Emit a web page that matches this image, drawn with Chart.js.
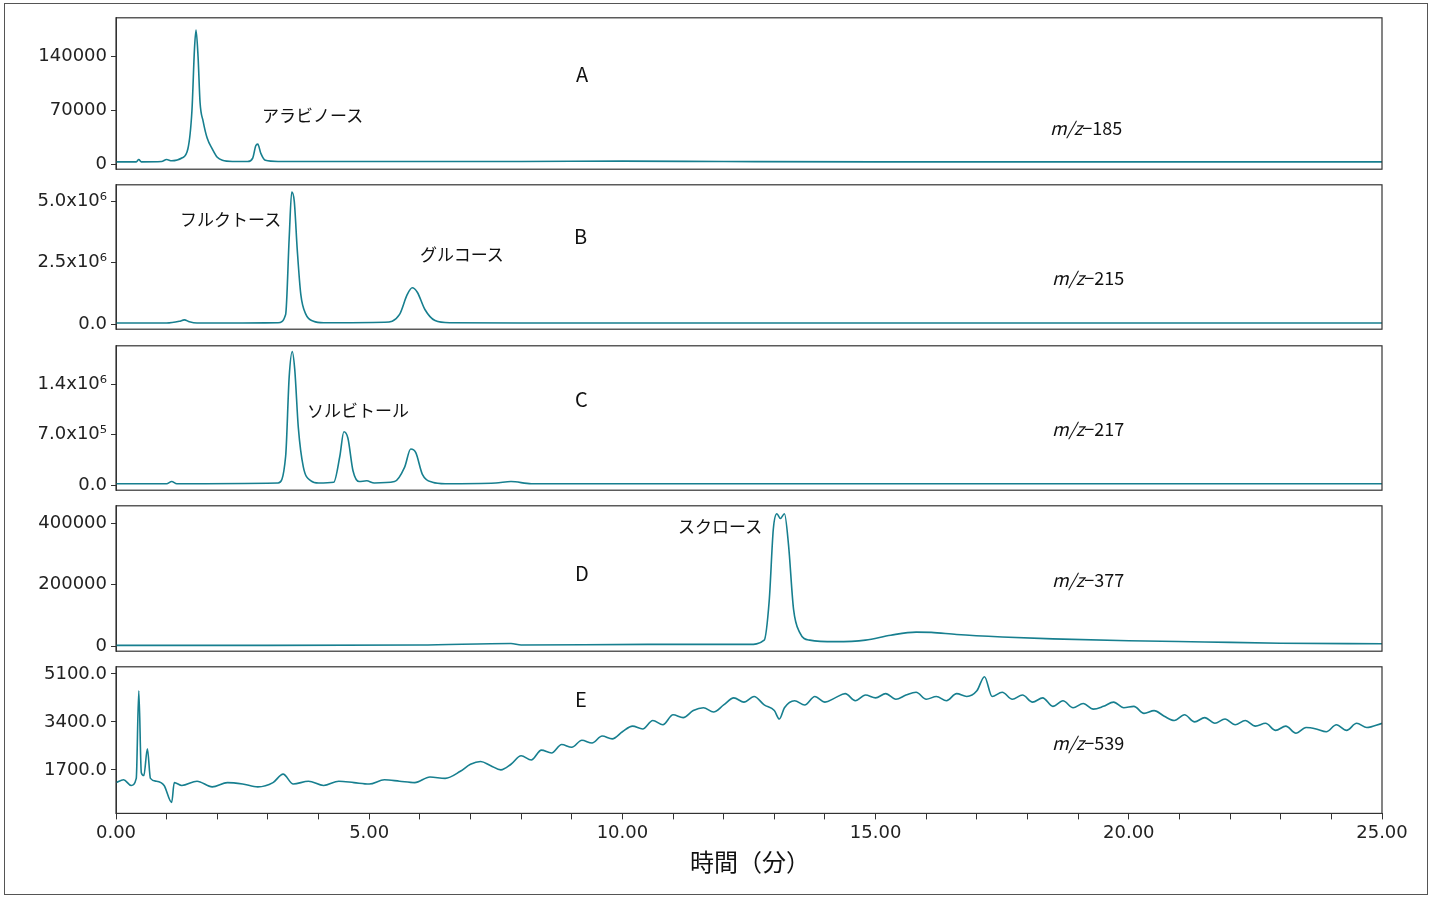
<!DOCTYPE html>
<html><head><meta charset="utf-8">
<script src="https://cdn.jsdelivr.net/npm/chart.js@4.4.0/dist/chart.umd.min.js"></script>
<style>
body{margin:0;background:#fff;font-family:"Noto Sans CJK JP","Noto Sans",sans-serif;}
#frame{position:absolute;left:4px;top:3px;width:1422px;height:890px;border:1.5px solid #555;}
.box{position:absolute;left:8px;width:1412px;}
.lab{position:absolute;font-size:17px;color:#111;white-space:nowrap;}
.big{font-size:20px;}
.mz{font-size:18px;}
</style></head><body>
<div id="frame"></div>
<div class="box" style="top:3px;height:181px"><canvas id="cA"></canvas></div>
<div class="box" style="top:170px;height:174px"><canvas id="cB"></canvas></div>
<div class="box" style="top:331px;height:174px"><canvas id="cC"></canvas></div>
<div class="box" style="top:491px;height:175px"><canvas id="cD"></canvas></div>
<div class="box" style="top:652px;height:195px"><canvas id="cE"></canvas></div>

<div class="lab big" style="left:576px;top:59px">A</div>
<div class="lab" style="left:262px;top:102px">アラビノース</div>
<div class="lab mz" style="left:1050px;top:114px"><i>m/z</i>−185</div>
<div class="lab big" style="left:574px;top:221px">B</div>
<div class="lab" style="left:180px;top:206px">フルクトース</div>
<div class="lab" style="left:420px;top:241px">グルコース</div>
<div class="lab mz" style="left:1052px;top:264px"><i>m/z</i>−215</div>
<div class="lab big" style="left:575px;top:384px">C</div>
<div class="lab" style="left:307px;top:397px">ソルビトール</div>
<div class="lab mz" style="left:1052px;top:415px"><i>m/z</i>−217</div>
<div class="lab big" style="left:575px;top:558px">D</div>
<div class="lab" style="left:678px;top:513px">スクロース</div>
<div class="lab mz" style="left:1052px;top:566px"><i>m/z</i>−377</div>
<div class="lab big" style="left:575px;top:684px">E</div>
<div class="lab mz" style="left:1052px;top:729px"><i>m/z</i>−539</div>
<div class="lab" style="left:690px;top:843px;font-size:24px">時間（分）</div>

<script>
// --- data ---
const A_t = [0,0.4,0.45,0.5,0.9,1.0,1.1,1.3,1.42,1.5,1.55,1.58,1.62,1.66,1.72,1.8,1.9,2.0,2.1,2.3,2.6,2.7,2.76,2.8,2.86,2.95,3.2,5,8,10,12,15,20,25];
const A_v = [3000,3000,6000,3000,3500,6000,4500,8000,20000,70000,150000,174000,140000,80000,56000,34000,20000,9000,5000,3500,3500,8000,24000,26000,14000,5000,3500,3500,3500,4000,3500,3000,3000,3000];
const B_t = [0,1.0,1.25,1.35,1.45,1.6,2.5,3.2,3.35,3.42,3.47,3.52,3.58,3.65,3.75,3.9,4.1,5.3,5.6,5.75,5.85,5.95,6.1,6.3,6.6,8,12,18,25];
const B_v = [0.05e6,0.05e6,0.12e6,0.18e6,0.1e6,0.05e6,0.05e6,0.06e6,0.4e6,3.5e6,5.37e6,5.0e6,3.0e6,1.2e6,0.4e6,0.12e6,0.06e6,0.08e6,0.4e6,1.2e6,1.48e6,1.3e6,0.6e6,0.15e6,0.06e6,0.05e6,0.05e6,0.05e6,0.05e6];
const C_t = [0,1.0,1.1,1.2,3.2,3.35,3.42,3.48,3.53,3.6,3.7,3.85,4.0,4.3,4.42,4.5,4.58,4.68,4.8,4.95,5.1,5.5,5.7,5.82,5.92,6.05,6.25,6.5,7.5,7.8,8.2,12,25];
const C_v = [0.02e6,0.02e6,0.05e6,0.02e6,0.03e6,0.4e6,1.5e6,1.85e6,1.6e6,0.8e6,0.25e6,0.06e6,0.03e6,0.04e6,0.4e6,0.74e6,0.65e6,0.2e6,0.05e6,0.06e6,0.03e6,0.05e6,0.25e6,0.5e6,0.45e6,0.15e6,0.04e6,0.02e6,0.03e6,0.05e6,0.02e6,0.02e6,0.02e6];
const D_t = [0,3,6,7.8,8,10.5,12.5,12.8,12.9,12.98,13.05,13.12,13.2,13.28,13.38,13.5,13.7,14.2,14.8,15.3,15.8,16.1,16.6,17.5,18.5,20,21.5,23,25];
const D_v = [3000,3000,4000,9000,4000,6000,6000,20000,150000,380000,430000,415000,430000,330000,120000,45000,20000,15000,20000,36000,46000,45000,38000,30000,24000,18000,14000,10000,8000];
const E_t = [0,0.15,0.3,0.4,0.45,0.5,0.55,0.62,0.68,0.8,0.95,1.1,1.15,1.3,1.6,1.9,2.2,2.5,2.8,3.1,3.3,3.5,3.8,4.1,4.4,4.7,5.0,5.3,5.6,5.9,6.2,6.5,6.8,7.0,7.2,7.4,7.6,7.8,8.0,8.2,8.4,8.6,8.8,9.0,9.2,9.4,9.6,9.8,10.0,10.2,10.4,10.6,10.8,11.0,11.2,11.4,11.6,11.8,12.0,12.2,12.4,12.6,12.8,13.0,13.1,13.2,13.4,13.6,13.8,14.0,14.2,14.4,14.6,14.8,15.0,15.2,15.4,15.6,15.8,16.0,16.2,16.4,16.6,16.8,17.0,17.15,17.3,17.5,17.7,17.9,18.1,18.3,18.5,18.7,18.9,19.1,19.3,19.5,19.7,19.9,20.1,20.3,20.5,20.7,20.9,21.1,21.3,21.5,21.7,21.9,22.1,22.3,22.5,22.7,22.9,23.1,23.3,23.5,23.7,23.9,24.1,24.3,24.5,24.7,25];
const E_v = [1250,1350,1150,1400,4500,1600,1500,2450,1400,1300,1150,550,1250,1150,1300,1100,1250,1200,1100,1250,1550,1200,1300,1150,1300,1250,1200,1350,1300,1250,1450,1400,1650,1900,2000,1850,1700,1900,2200,2050,2400,2300,2600,2500,2750,2650,2900,2800,3050,3250,3150,3450,3300,3650,3550,3800,3900,3750,4000,4250,4100,4300,4000,3800,3500,3900,4150,4000,4300,4100,4250,4400,4150,4350,4250,4400,4200,4350,4450,4200,4300,4150,4400,4300,4500,5000,4300,4450,4200,4350,4100,4250,3950,4150,3900,4050,3850,3950,4100,3900,3950,3700,3800,3600,3450,3650,3400,3550,3350,3500,3300,3450,3250,3350,3100,3250,3000,3200,3150,3050,3300,3100,3350,3200,3350];

const A_ticks = [0,70000,140000], A_labels = ['0','70000','140000'];
const B_ticks = [0,2.5e6,5e6], B_labels = ['0.0','2.5x10⁶','5.0x10⁶'];
const C_ticks = [0,7e5,1.4e6], C_labels = ['0.0','7.0x10⁵','1.4x10⁶'];
const D_ticks = [0,200000,400000], D_labels = ['0','200000','400000'];
const E_ticks = [1700,3400,5100], E_labels = ['1700.0','3400.0','5100.0'];
const X_ticks = [0,5,10,15,20,25], X_labels = ['0.00','5.00','10.00','15.00','20.00','25.00'];

const COLOR = '#177f8f';
const framePlugin = {
  id: 'frame',
  afterDraw(chart) {
    const a = chart.chartArea, c = chart.ctx;
    c.save(); c.strokeStyle = '#333'; c.lineWidth = 1.2;
    c.strokeRect(a.left, a.top, a.right - a.left, a.bottom - a.top);
    c.restore();
  }
};

function makePanel(id, t, v, ymin, ymax, ticks, labels, showX) {
  const pts = t.map((x, i) => ({ x, y: v[i] }));
  new Chart(document.getElementById(id), {
    type: 'line',
    data: { datasets: [{ data: pts, borderColor: COLOR, borderWidth: 1.6, pointRadius: 0, cubicInterpolationMode: 'monotone' }] },
    options: {
      responsive: true, maintainAspectRatio: false, animation: false,
      layout: { padding: { top: 8, right: 38, bottom: showX ? 0 : 8, left: 0 } },
      plugins: { legend: { display: false }, tooltip: { enabled: false } },
      scales: {
        x: {
          type: 'linear', min: 0, max: 25, display: showX,
          afterBuildTicks: s => { s.ticks = []; for (let i = 0; i <= 25; i++) s.ticks.push({ value: i }); },
          ticks: { color: '#222', font: { size: 18, family: 'DejaVu Sans' }, maxRotation: 0, autoSkip: false,
            callback: val => { const k = X_ticks.indexOf(val); return k >= 0 ? X_labels[k] : ''; } },
          grid: { drawOnChartArea: false, tickLength: 6, color: '#333' },
          border: { color: '#333' }
        },
        y: {
          min: ymin, max: ymax,
          afterFit: s => { s.width = 108; },
          afterBuildTicks: s => { s.ticks = ticks.map(value => ({ value })); },
          ticks: { color: '#222', font: { size: 18, family: 'DejaVu Sans' }, padding: 4,
            callback: val => labels[ticks.indexOf(val)] },
          grid: { drawOnChartArea: false, tickLength: 5, color: '#333' },
          border: { color: '#333' }
        }
      }
    },
    plugins: [framePlugin]
  });
}

makePanel('cA', A_t, A_v, -6500, 190000, A_ticks, A_labels, false);
makePanel('cB', B_t, B_v, -0.2e6, 5.66e6, B_ticks, B_labels, false);
makePanel('cC', C_t, C_v, -0.07e6, 1.93e6, C_ticks, C_labels, false);
makePanel('cD', D_t, D_v, -16000, 456000, D_ticks, D_labels, false);
makePanel('cE', E_t, E_v, 160, 5350, E_ticks, E_labels, true);
</script>
</body></html>
